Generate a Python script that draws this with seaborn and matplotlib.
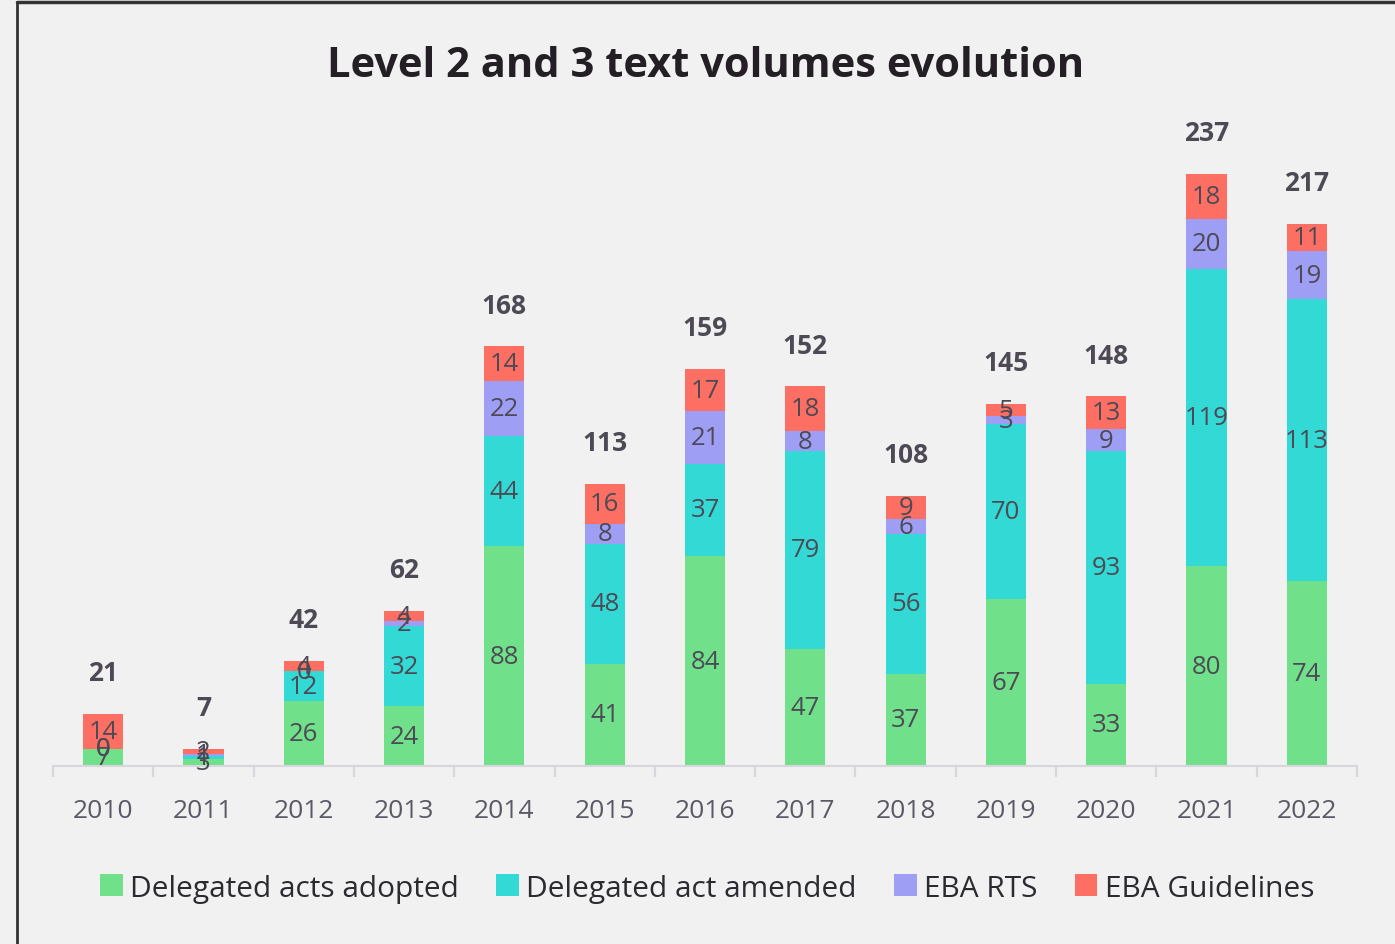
import numpy as np
import pandas as pd
import matplotlib.pyplot as plt
import seaborn as sns
from matplotlib.patches import Patch
from matplotlib.lines import Line2D

# data
years = ['2010', '2011', '2012', '2013', '2014', '2015', '2016',
         '2017', '2018', '2019', '2020', '2021', '2022']
adopted = [7, 3, 26, 24, 88, 41, 84, 47, 37, 67, 33, 80, 74]
amended = [0, 1, 12, 32, 44, 48, 37, 79, 56, 70, 93, 119, 113]
eba_rts = [0, 1, 0, 2, 22, 8, 21, 8, 6, 3, 9, 20, 19]
eba_guidelines = [14, 2, 4, 4, 14, 16, 17, 18, 9, 5, 13, 18, 11]

series_names = ['Delegated acts adopted', 'Delegated act amended', 'EBA RTS', 'EBA Guidelines']
colors = ['#70e08a', '#33d9d4', '#9e9ef5', '#fd6f62']

df = pd.DataFrame({'year': years,
                   series_names[0]: adopted,
                   series_names[1]: amended,
                   series_names[2]: eba_rts,
                   series_names[3]: eba_guidelines})
cum = df[series_names].cumsum(axis=1)
totals = cum[series_names[-1]]

sns.set_theme(style='white')
plt.rcParams['font.family'] = ['Open Sans', 'DejaVu Sans']
bg = '#f1f1f1'
txt = '#4d4a55'

fig = plt.figure(figsize=(13.95, 9.45), dpi=100, facecolor=bg)
ax = fig.add_axes([53 / 1395, 178 / 945, 1304 / 1395, 647 / 945])
ax.set_facecolor(bg)

# stacked bars: draw cumulative heights, tallest first
for name, col in reversed(list(zip(series_names, colors))):
    sns.barplot(x=df['year'], y=cum[name], color=col, width=0.4,
                saturation=1, ax=ax, linewidth=0)

ax.set_ylim(0, 259)
ax.set_xlim(-0.5, 12.5)

# segment labels
for i in range(len(years)):
    base = 0
    for name in series_names:
        v = df[name][i]
        ax.text(i, base + v / 2, str(v), ha='center', va='center',
                fontsize=18.5, color=txt)
        base += v
    ax.annotate(str(totals[i]), (i, totals[i]), xytext=(0, 20),
                textcoords='offset points', ha='center', va='bottom',
                fontsize=19, fontweight='bold', color=txt)

for s in ['top', 'right', 'left']:
    ax.spines[s].set_visible(False)
ax.spines['bottom'].set_color('#d8d6dc')
ax.spines['bottom'].set_linewidth(1.5)
ax.set_yticks([])
ax.set_xlabel('')
ax.set_ylabel('')
ax.set_xticks(np.arange(-0.5, 13, 1), minor=True)
ax.tick_params(axis='x', which='major', length=0, labelsize=19,
               labelcolor='#5a5a66', pad=23)
ax.tick_params(axis='x', which='minor', length=8, width=1.5,
               color='#d8d6dc', direction='out', bottom=True)

fig.text(0.506, 0.93, 'Level 2 and 3 text volumes evolution',
         ha='center', va='center', fontsize=30, fontweight='bold',
         color='#231f24')

handles = [Patch(facecolor=c, edgecolor='none') for c in colors]
fig.legend(handles, series_names, loc='center', bbox_to_anchor=(0.507, 0.059),
           ncol=4, frameon=False, fontsize=21.5, handlelength=0.75,
           handleheight=0.75, handletextpad=0.25, columnspacing=1.25,
           labelcolor='#2c2a30')

# frame lines at top and left of the picture
fig.add_artist(Line2D([17 / 1395, 1], [1 - 3 / 945, 1 - 3 / 945],
                      transform=fig.transFigure, color='#333333', lw=2.5))
fig.add_artist(Line2D([17 / 1395, 17 / 1395], [0, 1 - 3 / 945],
                      transform=fig.transFigure, color='#333333', lw=2))

fig.savefig('out.png', dpi=100, facecolor=bg)
